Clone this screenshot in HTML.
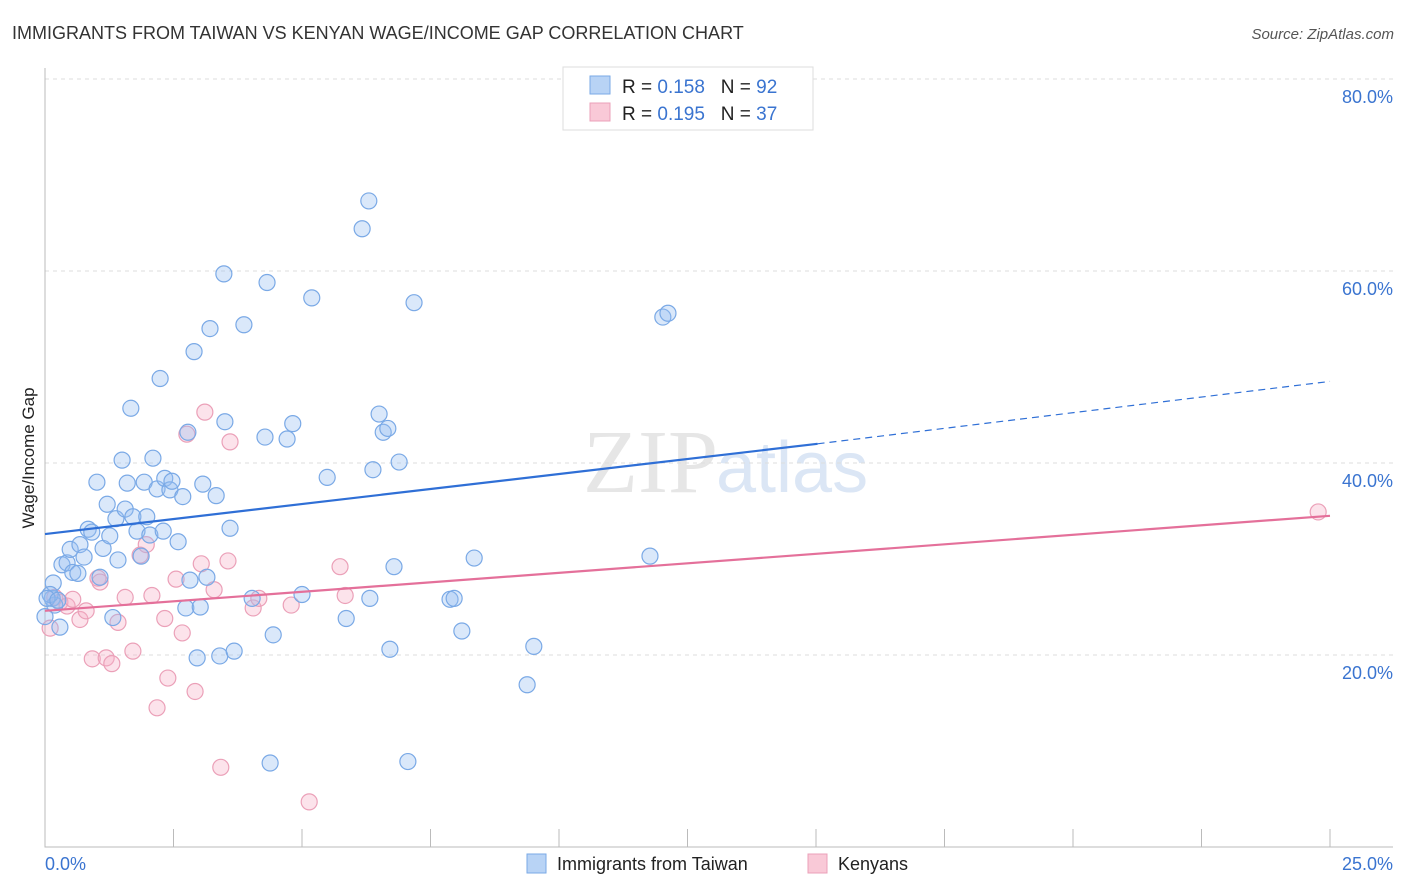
<!DOCTYPE html>
<html><head><meta charset="utf-8"><style>
body{margin:0;background:#fff;font-family:"Liberation Sans",sans-serif}
svg{display:block}
</style></head><body>
<svg id="chart" width="1406" height="892">
<text x="12" y="39" font-size="18" fill="#333">IMMIGRANTS FROM TAIWAN VS KENYAN WAGE/INCOME GAP CORRELATION CHART</text>
<text x="1394" y="39" font-size="15" fill="#555" font-style="italic" text-anchor="end">Source: ZipAtlas.com</text>
<text x="718" y="492" font-size="90" fill="#e6e6e6" text-anchor="end" font-family="Liberation Serif">ZIP</text>
<text x="716" y="492" font-size="72" fill="#dbe6f5">atlas</text>
<g id="grid"></g><g id="axes"></g><g id="pts"></g><g id="lines"></g>
<text x="34" y="458" font-size="17" fill="#222" text-anchor="middle" transform="rotate(-90 34 458)">Wage/Income Gap</text>
<text x="45" y="870" font-size="18" fill="#3a74d0">0.0%</text>
<text x="1393" y="870" font-size="18" fill="#3a74d0" text-anchor="end">25.0%</text>
<g>
<rect x="563" y="67" width="250" height="63" fill="#fff" stroke="#ddd"/>
<rect x="590" y="76" width="20" height="18" fill="#b8d3f5" stroke="#7aa9e6"/>
<rect x="590" y="103" width="20" height="18" fill="#f9c9d7" stroke="#eba0b8"/>
<text x="622" y="93" font-size="19" fill="#222">R = <tspan fill="#3a74d0">0.158</tspan>&#160;&#160;&#160;N = <tspan fill="#3a74d0">92</tspan></text>
<text x="622" y="120" font-size="19" fill="#222">R = <tspan fill="#3a74d0">0.195</tspan>&#160;&#160;&#160;N = <tspan fill="#3a74d0">37</tspan></text>
</g>
<g>
<rect x="527" y="854" width="19" height="19" fill="#b8d3f5" stroke="#7aa9e6"/>
<text x="557" y="870" font-size="18" fill="#222">Immigrants from Taiwan</text>
<rect x="808" y="854" width="19" height="19" fill="#f9c9d7" stroke="#eba0b8"/>
<text x="838" y="870" font-size="18" fill="#222">Kenyans</text>
</g>
</svg>
<script>
const yTicks=[20,40,60,80];
const taiwanX=[0.16,0.14,0.19,0.29,0.33,0.43,0.49,0.54,0.64,0.68,0.76,0.84,0.91,1.01,1.07,1.13,1.21,1.26,1.32,1.38,1.42,1.50,1.56,1.60,1.67,1.71,1.79,1.87,1.93,1.98,2.04,2.10,2.18,2.24,2.30,2.33,2.43,2.47,2.59,2.68,2.74,2.78,2.82,2.90,2.96,3.02,3.07,3.15,3.21,3.33,3.40,3.48,3.50,3.60,3.68,3.87,4.03,4.28,4.32,4.44,4.71,4.82,5.00,5.19,5.49,5.86,6.17,6.30,6.32,6.38,6.50,6.58,6.67,6.71,6.79,6.89,7.06,7.18,7.88,7.96,8.11,8.35,9.38,9.51,11.77,12.02,12.12,4.38,0.0,0.10,0.04,0.25];
const taiwanY=[27.5,25.9,25.2,22.9,29.4,29.6,31.0,28.6,28.5,31.5,30.2,33.1,32.8,38.0,28.1,31.1,35.7,32.4,23.9,34.2,29.9,40.3,35.2,37.9,45.7,34.4,32.9,30.3,38.0,34.4,32.5,40.5,37.3,48.8,32.9,38.4,37.2,38.1,31.8,36.5,24.9,43.2,27.8,51.6,19.7,25.0,37.8,28.1,54.0,36.6,19.9,59.7,44.3,33.2,20.4,54.4,25.9,42.7,58.8,22.1,42.5,44.1,26.3,57.2,38.5,23.8,64.4,67.3,25.9,39.3,45.1,43.2,43.6,20.6,29.2,40.1,8.9,56.7,25.8,25.9,22.5,30.1,16.9,20.9,30.3,55.2,55.6,8.75,24.0,26.3,25.9,25.7];
const kenyaX=[0.1,0.19,0.29,0.43,0.54,0.68,0.8,0.92,1.03,1.07,1.19,1.3,1.42,1.56,1.71,1.85,1.97,2.08,2.18,2.33,2.39,2.55,2.67,2.76,2.92,3.04,3.11,3.29,3.42,3.56,3.6,4.05,4.16,4.79,5.14,5.74,5.84,24.77];
const kenyaY=[22.8,26.0,25.5,25.1,25.8,23.7,24.6,19.6,28.0,27.6,19.7,19.1,23.4,26.0,20.4,30.4,31.5,26.2,14.5,23.8,17.6,27.9,22.3,43.0,16.2,29.5,45.3,26.8,8.3,29.8,42.2,24.9,25.9,25.2,4.7,29.2,26.2,34.9];
const blueLine=[[0,32.6],[15.03,42.0],[25,48.5]];
const pinkLine=[[0,24.6],[25,34.5]];
const NS="http://www.w3.org/2000/svg";
const X=v=>45+v*51.4, Y=v=>847-v*9.6;
function mk(t,a,p){const e=document.createElementNS(NS,t);for(const k in a)e.setAttribute(k,a[k]);p.appendChild(e);return e;}
const grid=document.getElementById('grid'),axes=document.getElementById('axes'),pts=document.getElementById('pts'),lines=document.getElementById('lines');
yTicks.forEach(t=>{
 const l=mk('line',{x1:45,x2:1393,y1:Y(t),y2:Y(t),stroke:'#ddd','stroke-dasharray':'4,4'},grid);
 
 
 const tx=mk('text',{x:1393,y:Y(t)+24,'font-size':18,fill:'#3a74d0','text-anchor':'end'},grid);
 tx.textContent=t.toFixed(1)+'%';
 
 
});
const ax=mk('path',{d:'M45,68V847H1393',fill:'none',stroke:'#bbb'},axes);


for(let i=0;i<=10;i++){const t=mk('line',{x1:X(i*2.5),x2:X(i*2.5),y1:829,y2:847,stroke:'#bbb'},axes);
 
 }
function dots(xs,ys,fill,stroke,name){const n=Math.min(xs.length,ys.length);for(let i=0;i<n;i++){const c=mk('circle',{cx:X(xs[i]),cy:Y(ys[i]),r:8,fill:fill,stroke:stroke,'stroke-width':1.2},pts);
 
 }}
dots(kenyaX,kenyaY,'rgba(245,175,198,0.35)','#eba0b8','kenyan-point');
dots(taiwanX,taiwanY,'rgba(150,190,240,0.35)','#7aa9e6','taiwan-point');
const b1=mk('line',{x1:X(blueLine[0][0]),y1:Y(blueLine[0][1]),x2:X(blueLine[1][0]),y2:Y(blueLine[1][1]),stroke:'#2f6fd6','stroke-width':2.2},lines);


const b2=mk('line',{x1:X(blueLine[1][0]),y1:Y(blueLine[1][1]),x2:X(blueLine[2][0]),y2:Y(blueLine[2][1]),stroke:'#2f6fd6','stroke-width':1.2,'stroke-dasharray':'7,5'},lines);


const p1=mk('line',{x1:X(pinkLine[0][0]),y1:Y(pinkLine[0][1]),x2:X(pinkLine[1][0]),y2:Y(pinkLine[1][1]),stroke:'#e4709a','stroke-width':2.2},lines);


</script>
</body></html>
